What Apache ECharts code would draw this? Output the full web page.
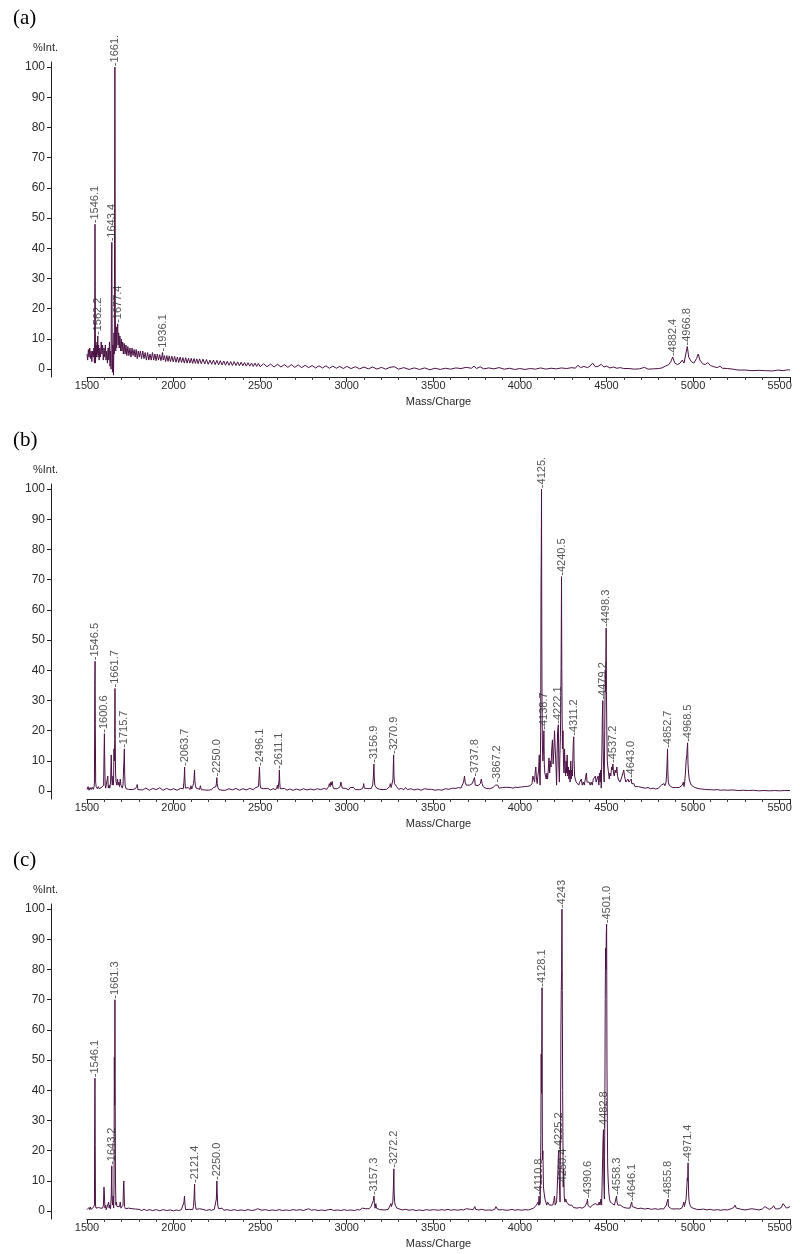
<!DOCTYPE html>
<html>
<head>
<meta charset="utf-8">
<script src="https://cdn.jsdelivr.net/npm/echarts@6/dist/echarts.min.js"></script>
<style>
  html, body { margin: 0; padding: 0; background: #fff; }
  #chart { width: 800px; height: 1254px; }
</style>
</head>
<body>
<div id="chart"></div>
<script>
// ---------- tick labels ----------
const xTicks = [1500, 2000, 2500, 3000, 3500, 4000, 4500, 5000, 5500];
const yTicks = [0, 10, 20, 30, 40, 50, 60, 70, 80, 90, 100];
const panelTags = ['(a)', '(b)', '(c)'];

// ---------- spectrum (a) : [m/z, %Int] ----------
const specA = [
[1500,5],[1504,3],[1508,6.5],[1512,4],[1516,7],[1520,3.5],[1524,6],[1528,2.5],[1532,6],[1536,4],[1540,7],[1543,2],
[1545,20],[1546.1,48],[1547.5,27],[1549,2],[1552,8],[1555,4],[1558,9],[1560,5],[1562.2,11],[1564,4],[1567,8],[1570,3],
[1574,7],[1578,4],[1582,9],[1586,5],[1590,8],[1594,3],[1598,7],[1602,4],[1606,8],[1610,3],[1614,6],[1618,2],[1622,7],
[1626,3],[1630,9],[1633,1],[1636,6],[1639,0],[1641,28],[1643.4,42],[1645,15],[1647,-1],[1650,8],[1653,-2],[1656,12],
[1658,5],[1659.5,52],[1661,100],[1662,72],[1663.5,20],[1666,6],[1669,14],[1671,7],[1674,12],[1677.4,15],[1680,8],
[1683,12],[1686,7],[1690,11],[1694,6],[1698,10],[1702,6],[1706,9],[1710,5],[1715,8.5],[1720,5],[1725,8],[1730,4.5],
[1736,7.5],[1742,4.5],[1748,7],[1754,4],[1760,7],[1766,4.5],[1772,6.5],[1778,4],[1784,6.5],[1790,3.5],[1796,6],
[1802,4],[1808,6],[1815,3.5],[1822,6],[1829,3.5],[1836,5.5],[1843,3],[1850,5.5],[1857,3],[1864,5],[1871,3],[1878,5.5],
[1885,3],[1892,5],[1899,2.8],[1906,5],[1913,3],[1920,4.8],[1927,2.8],[1933,4.5],[1936.1,5.5],[1940,3],[1947,4.5],
[1954,2.5],[1961,4.5],[1968,2.6],[1975,4.4],[1982,2.5],[1990,4.3],[1998,2.4],[2006,4.2],[2014,2.3],[2022,4],[2030,2.2],
[2038,4],[2046,2.2],[2054,3.8],[2062,2],[2070,3.8],[2078,2],[2086,3.6],[2094,2],[2102,3.6],[2110,1.9],[2118,3.5],
[2126,1.9],[2134,3.4],[2142,1.8],[2150,3.4],[2160,1.8],[2170,3.3],[2180,1.7],[2190,3.2],[2200,1.6],[2210,3],[2220,1.6],
[2230,3],[2240,1.5],[2250,2.9],[2260,1.4],[2270,2.8],[2280,1.4],[2290,2.7],[2300,1.3],[2310,2.6],[2320,1.3],[2330,2.5],
[2340,1.2],[2350,2.5],[2360,1.2],[2370,2.4],[2380,1.1],[2390,2.3],[2400,1.1],[2410,2.2],[2420,1],[2430,2.1],[2440,1],
[2450,2],[2460,0.9],[2470,2],[2480,0.9],[2490,1.9],[2500,0.8],[2520,1.8],[2540,0.8],[2560,1.7],[2580,0.7],[2600,1.6],
[2620,0.7],[2640,1.5],[2660,0.6],[2680,1.5],[2700,0.6],[2720,1.4],[2740,0.5],[2760,1.3],[2780,0.5],[2800,1.2],
[2820,0.4],[2840,1.1],[2860,0.4],[2880,1.1],[2900,0.3],[2920,1],[2940,0.3],[2960,0.9],[2980,0.2],[3000,0.9],[3025,0.2],
[3050,0.8],[3075,0.1],[3100,0.7],[3125,0.1],[3150,0.7],[3175,0],[3200,0.6],[3225,0],[3250,0.6],[3275,0.8],[3300,0],
[3330,0.5],[3360,-0.1],[3390,0.4],[3420,-0.1],[3450,0.4],[3480,-0.2],[3510,0.3],[3540,-0.1],[3570,0.3],[3600,0],
[3630,0.4],[3660,0.2],[3690,0.6],[3720,0.3],[3735,1],[3750,0.2],[3770,0.8],[3790,0.1],[3820,0.4],[3850,0.1],[3880,0.5],
[3910,0],[3940,0.3],[3970,-0.1],[4000,0.2],[4030,-0.1],[4060,0.2],[4090,0],[4120,0.4],[4150,0],[4180,0.3],[4210,0.1],
[4240,0.4],[4270,0.2],[4300,0.5],[4320,0.3],[4335,1.3],[4350,0.5],[4370,0.9],[4390,0.5],[4405,1],[4420,2],[4435,0.8],
[4450,0.9],[4470,1.6],[4485,0.7],[4500,1],[4520,0.4],[4540,0.7],[4560,0.3],[4580,0.5],[4600,0.2],[4630,0.2],[4660,0],
[4690,0.1],[4720,0.6],[4740,0],[4770,0.1],[4800,0.2],[4820,0.4],[4840,1],[4860,1.5],[4872,2.5],[4882.4,4],[4895,2],
[4910,1.5],[4925,2],[4938,3],[4948,2],[4958,5],[4966.8,7.5],[4975,4],[4990,2.5],[5005,2],[5020,3.5],[5030,5],[5040,3],
[5055,1.8],[5070,1.5],[5085,2.2],[5100,1.2],[5120,0.8],[5140,0.5],[5155,1],[5170,0.3],[5200,0.2],[5230,0],[5260,-0.3],
[5300,-0.3],[5340,-0.5],[5380,-0.4],[5420,-0.5],[5460,-0.6],[5490,-0.3],[5520,-0.5],[5550,-0.2],[5560,-0.3]
];
const peaksA = [
[1546.1,48,'1546.1'],[1562.2,11,'1562.2'],[1643.4,42,'1643.4'],[1661,100,'1661.'],[1677.4,15,'1677.4'],
[1936.1,5.5,'1936.1'],[4882.4,4,'4882.4'],[4966.8,7.5,'4966.8']
];

// ---------- spectrum (b) ----------
const specB = [
[1500,0.5],[1506,1.5],[1512,0.3],[1518,1.2],[1524,0.5],[1530,1.3],[1536,0.6],[1541,1.5],[1543,3],[1545,35],[1546.5,43],
[1548,22],[1550,3],[1553,1.5],[1557,2],[1560,0.8],[1565,1.5],[1570,0.8],[1575,1.2],[1580,0.6],[1586,1.3],[1592,0.8],
[1596,2],[1598.5,12],[1600.6,19],[1602.5,9],[1605,2],[1608,1],[1612,1.5],[1616,0.8],[1620,5],[1623,1],[1628,2],[1632,1],
[1636,3],[1640,12],[1643,4],[1646,2],[1650,5],[1653,2],[1656,14],[1658,10],[1660,17],[1661.7,34],[1663,17],[1665,6],
[1668,3],[1672,2],[1676,4],[1680,2],[1684,3],[1688,1.5],[1692,4],[1696,2],[1700,2.5],[1704,1],[1708,2],[1711,7],
[1713.5,10],[1715.7,14],[1717.5,6],[1720,2],[1725,0.8],[1730,1],[1740,0.6],[1750,1],[1760,0.5],[1770,1],[1780,0.8],
[1786,1.5],[1790,2.2],[1794,0.5],[1800,0.8],[1820,0.4],[1840,1],[1860,0.3],[1880,0.9],[1900,0.5],[1920,1.1],[1940,0.3],
[1960,0.9],[1980,0.4],[2000,0.8],[2020,0.3],[2040,0.9],[2050,1.5],[2056,0.8],[2060,3],[2062,5],[2063.7,8],[2065.5,4],
[2068,1],[2075,0.6],[2085,1.2],[2095,0.5],[2100,1.8],[2105,0.7],[2110,1.5],[2115,2.5],[2118,4],[2121,7],[2123,3.5],
[2126,2],[2130,1],[2140,1.5],[2150,0.6],[2155,1.8],[2160,0.5],[2170,0.9],[2180,0.4],[2190,0.8],[2200,0.3],[2210,0.9],
[2220,0.5],[2230,1.2],[2240,0.8],[2245,1.5],[2248,3],[2250,4.5],[2252,2.5],[2256,1.2],[2262,0.5],[2270,0.8],[2280,0.3],
[2290,0.7],[2300,0.3],[2320,0.8],[2340,0.4],[2360,0.9],[2380,0.3],[2400,0.8],[2420,0.4],[2440,0.9],[2460,0.5],
[2475,1.2],[2485,0.6],[2490,1.5],[2493,4],[2496.1,8],[2498,5],[2500,2],[2504,1],[2510,0.6],[2520,0.8],[2530,0.4],
[2545,0.9],[2560,0.4],[2575,0.8],[2590,0.5],[2596,1.2],[2600,2],[2603,0.8],[2607,1],[2609,3.5],[2611.1,7],[2613,3],
[2616,0.8],[2625,0.5],[2640,0.9],[2655,0.3],[2670,0.7],[2690,0.3],[2710,0.7],[2730,0.3],[2750,0.8],[2770,0.4],
[2790,0.7],[2810,0.4],[2830,0.8],[2850,0.5],[2870,0.9],[2885,0.6],[2895,1.5],[2900,2.5],[2904,1.5],[2908,3],[2912,2],
[2916,3.2],[2920,1.5],[2925,0.8],[2935,0.5],[2945,0.8],[2955,0.6],[2962,1.5],[2966,3],[2970,2.2],[2974,1],[2980,0.6],
[2995,0.9],[3010,0.4],[3020,1.2],[3025,1.5],[3030,0.7],[3040,1.2],[3050,0.5],[3060,0.9],[3075,0.5],[3090,0.8],
[3095,1.5],[3098,2.5],[3101,1],[3105,0.7],[3110,1.5],[3115,0.9],[3120,1.5],[3128,0.8],[3135,1.2],[3142,0.9],[3150,2],
[3154,5],[3156.9,9],[3159,5],[3162,2],[3166,1.5],[3170,2.5],[3173,1],[3180,0.8],[3190,0.6],[3200,0.8],[3210,0.5],
[3220,0.9],[3230,0.6],[3240,1],[3248,1.5],[3252,2.5],[3256,1.2],[3260,2],[3264,1.5],[3267,4],[3270.9,12],[3273,5],
[3276,2.5],[3280,3],[3284,2.5],[3288,1.5],[3295,1.2],[3300,0.6],[3315,0.9],[3330,0.5],[3340,1.2],[3350,0.5],[3370,0.8],
[3390,0.4],[3410,0.7],[3430,0.3],[3450,0.8],[3460,1.2],[3470,0.6],[3490,0.6],[3510,0.3],[3530,0.5],[3550,0.3],
[3570,0.8],[3590,0.6],[3610,1],[3630,0.9],[3645,1.2],[3660,1],[3670,1.5],[3675,3],[3680,5],[3684,3],[3690,2],
[3700,1.6],[3710,2],[3718,1.8],[3725,2.5],[3730,3],[3735,2.5],[3737.8,4.5],[3742,2],[3750,1.5],[3758,1.8],[3765,1.2],
[3772,2.5],[3777,4],[3782,2.5],[3788,1.5],[3796,1.2],[3805,0.9],[3815,1],[3825,0.8],[3835,1],[3845,1.2],[3852,1.5],
[3860,2],[3867.2,2.5],[3872,2],[3880,1],[3890,0.8],[3900,1.2],[3910,0.9],[3920,1.3],[3930,1],[3945,1.2],[3960,1],
[3975,1.3],[3990,1.2],[4000,1.5],[4010,1.4],[4018,1.8],[4025,1.5],[4035,1.8],[4045,1.6],[4055,2],[4060,1.8],[4065,2],
[4070,2.5],[4075,5],[4080,4],[4085,3],[4088,6],[4092,8],[4096,4],[4100,2.5],[4104,5],[4108,7],[4112,12],[4115,4],
[4117,2],[4120,20],[4122,67],[4123.5,80],[4125,100],[4126.5,52],[4128,30],[4130,15],[4133,10],[4136,14],[4138.7,20],
[4141,9],[4144,6],[4148,5],[4152,4],[4156,6],[4160,4],[4164,7],[4168,11],[4172,6],[4176,10],[4180,8],[4184,14],
[4188,17],[4192,9],[4196,13],[4200,20],[4204,14],[4208,9],[4212,2],[4215,12],[4218,20],[4222.1,22],[4225,8],[4228,3],
[4231,12],[4234,18],[4236,28],[4238,41],[4240.5,71],[4242,41],[4244,25],[4246,14],[4249,20],[4252,9],[4255,6],
[4258,14],[4261,8],[4264,5],[4267,10],[4270,6],[4273,12],[4276,5],[4280,8],[4283,4],[4287,7],[4290,3],[4294,10],
[4297,4],[4300,7],[4303,5],[4306,11],[4308.5,16],[4311.2,18],[4313,10],[4316,5],[4320,4],[4325,3],[4330,2.5],
[4335,3.5],[4340,2],[4345,3],[4350,2.5],[4355,4],[4360,2],[4366,3],[4372,2],[4378,4],[4384,6],[4388,3],[4394,2.5],
[4400,3],[4406,2],[4412,3],[4418,2],[4424,4],[4430,3.5],[4436,5],[4440,3],[4446,4],[4452,5],[4456,2],[4460,6],
[4464,3],[4467,7],[4470,1],[4474,14],[4476,24],[4479.2,30],[4481,15],[4484,6],[4487,3],[4490,20],[4493,40],[4495,33],
[4498.3,54],[4500,33],[4502,20],[4505,10],[4508,8],[4512,6],[4516,4],[4520,6],[4525,5],[4530,8],[4534,7],[4537.2,9],
[4541,6],[4545,5],[4550,7],[4555,6],[4560,8],[4564,5],[4568,4],[4572,4],[4578,3],[4585,4],[4590,5],[4595,6],[4600,7],
[4604,5],[4608,4],[4612,3],[4618,3],[4624,4],[4630,3],[4635,2.5],[4640,3],[4643,4],[4646,2.5],[4650,2],[4658,2.5],
[4665,1.5],[4675,2],[4685,1.5],[4695,1.8],[4705,1.2],[4715,1.5],[4725,1],[4740,1.2],[4755,0.8],[4770,1],[4785,0.7],
[4800,1],[4810,1.5],[4818,2],[4825,1.5],[4832,2.5],[4838,1.8],[4844,3],[4848,6],[4850.5,10],[4852.7,14],[4854.5,7],
[4857,3],[4862,2],[4870,1.5],[4880,1.2],[4890,1],[4900,1.2],[4910,0.9],[4920,1.2],[4930,1],[4938,2],[4944,3],
[4948,1.5],[4952,3],[4956,6],[4960,10],[4964,12],[4968.5,16],[4971,9],[4974,6],[4978,4],[4983,3],[4990,2],[5000,1.5],
[5010,1.2],[5020,1],[5035,0.8],[5050,0.7],[5065,0.6],[5080,0.5],[5100,0.5],[5120,0.4],[5140,0.5],[5160,0.3],
[5180,0.4],[5200,0.3],[5230,0.4],[5260,0.2],[5290,0.3],[5320,0.2],[5350,0.3],[5380,0.1],[5410,0.2],[5440,0.1],
[5470,0.2],[5500,0.1],[5530,0.2],[5560,0.2]
];
const peaksB = [
[1546.5,43,'1546.5'],[1600.6,19,'1600.6'],[1661.7,34,'1661.7'],[1715.7,14,'1715.7'],[2063.7,8,'2063.7'],
[2250.0,4.5,'2250.0'],[2496.1,8,'2496.1'],[2611.1,7,'2611.1'],[3156.9,9,'3156.9'],[3270.9,12,'3270.9'],
[3737.8,4.5,'3737.8'],[3867.2,2.5,'3867.2'],[4125,100,'4125.'],[4138.7,20,'4138.7'],[4222.1,22,'4222.1'],
[4240.5,71,'4240.5'],[4311.2,18,'4311.2'],[4479.2,30,'4479.2'],[4498.3,54,'4498.3'],[4537.2,9,'4537.2'],
[4643.0,4,'4643.0'],[4852.7,14,'4852.7'],[4968.5,16,'4968.5']
];

// ---------- spectrum (c) ----------
const specC = [
[1500,0.5],[1504,1],[1508,0.3],[1512,1.2],[1516,0.5],[1520,1.4],[1524,0.6],[1528,1],[1532,0.4],[1536,1.2],[1540,0.6],
[1543,2],[1545,40],[1546.1,44],[1547.5,22],[1549,2],[1552,1],[1556,1.5],[1560,0.8],[1566,1.2],[1572,0.6],[1578,1],
[1584,0.5],[1590,1],[1595,2],[1598,8],[1600,6],[1602,3],[1604,1],[1608,2],[1611,0.5],[1615,1],[1620,0.5],[1625,3],
[1628,1],[1632,2],[1636,0.8],[1640,5],[1643.2,15],[1645,4],[1648,2],[1651,5],[1654,1],[1656,8],[1658,51],[1659.5,35],
[1661.3,70],[1663,35],[1664.5,10],[1667,2],[1670,3],[1673,1.5],[1676,2],[1680,1],[1684,2],[1688,1.5],[1692,3],
[1696,1],[1700,1.5],[1704,0.8],[1708,2],[1711,9],[1713,10],[1715,5],[1717,1.5],[1722,0.8],[1730,0.5],[1740,1],
[1750,0.4],[1760,0.8],[1770,0.3],[1780,0.7],[1790,0.3],[1800,0.6],[1815,0.2],[1830,0.6],[1845,0.2],[1860,0.5],
[1880,0.2],[1900,0.5],[1920,0.1],[1940,0.5],[1960,0.2],[1980,0.4],[2000,0.1],[2015,0.4],[2030,0.2],[2045,0.5],
[2055,1],[2060,3],[2063,5],[2066,2],[2070,0.5],[2080,0.4],[2090,0.6],[2100,0.3],[2110,0.5],[2115,1.5],[2118,4],
[2121.4,9],[2123,4],[2126,2],[2130,0.6],[2140,0.4],[2150,0.8],[2160,0.3],[2175,0.5],[2190,0.2],[2205,0.5],[2220,0.3],
[2235,0.6],[2244,1],[2247,4],[2250,10],[2252,6],[2255,2],[2260,0.8],[2270,0.5],[2280,1],[2290,0.3],[2310,0.5],
[2330,0.2],[2350,0.5],[2370,0.2],[2390,0.4],[2410,0.2],[2430,0.5],[2450,0.2],[2470,0.4],[2485,0.8],[2490,1.3],
[2495,0.5],[2510,0.3],[2530,0.5],[2550,0.2],[2570,0.4],[2590,0.2],[2610,0.5],[2630,0.2],[2650,0.4],[2670,0.2],
[2690,0.5],[2710,0.3],[2730,0.5],[2750,0.2],[2765,0.5],[2780,0.8],[2795,0.3],[2815,0.5],[2835,0.2],[2855,0.4],
[2875,0.2],[2895,0.5],[2910,0.6],[2925,0.2],[2945,0.4],[2965,0.2],[2985,0.5],[3005,0.2],[3020,0.4],[3030,0.5],
[3045,0.2],[3060,0.5],[3075,0.4],[3090,1],[3100,1.5],[3110,0.8],[3120,1.3],[3130,0.8],[3140,1.5],[3150,2],[3154,3.5],
[3157.3,5],[3160,2.5],[3164,1],[3168,2.5],[3172,1],[3180,0.8],[3190,0.5],[3200,0.6],[3220,0.4],[3240,0.6],[3250,1],
[3255,2.5],[3258,1.5],[3262,1.2],[3266,3],[3269,7],[3272.2,14],[3274,6],[3277,3],[3280,2],[3285,1.5],[3290,1],
[3300,0.6],[3320,0.4],[3340,0.6],[3360,0.3],[3380,0.5],[3400,0.2],[3420,0.4],[3440,0.2],[3460,0.5],[3480,0.3],
[3500,0.5],[3515,0.4],[3522,1],[3530,0.3],[3550,0.5],[3565,0.3],[3575,0.8],[3585,0.6],[3600,0.3],[3620,0.5],
[3640,0.3],[3660,0.5],[3675,0.4],[3690,0.8],[3700,0.4],[3715,0.6],[3730,0.5],[3740,1.5],[3745,0.6],[3760,0.4],
[3780,0.6],[3800,0.3],[3820,0.4],[3840,0.3],[3855,0.6],[3862,1.5],[3868,0.8],[3880,0.4],[3900,0.5],[3920,0.3],
[3940,0.4],[3955,0.6],[3970,0.3],[3990,0.5],[4010,0.3],[4030,0.5],[4050,0.4],[4065,0.7],[4080,1],[4090,1.5],
[4095,2],[4100,1.5],[4105,3],[4108,2],[4110.8,5],[4114,2],[4118,3],[4121,25],[4123,52],[4125,39],[4128.1,74],
[4130,17],[4133,20],[4136,8],[4140,6],[4145,4],[4150,3],[4155,2],[4160,3],[4170,2],[4180,2.5],[4190,2],[4196,3.5],
[4200,5],[4204,2],[4208,1.5],[4212,3],[4216,8],[4220,14],[4222,18],[4225.2,20],[4228,10],[4232,3],[4235,30],[4237,60],
[4239,73],[4241,80],[4243,100],[4245,73],[4247,40],[4249,20],[4250.4,8],[4253,14],[4256,5],[4260,3],[4265,4],
[4270,3],[4275,2.5],[4280,3.5],[4285,2],[4290,2.5],[4295,1.5],[4300,2],[4310,1.2],[4320,1.5],[4330,1],[4345,1.2],
[4360,1],[4375,1.5],[4385,2],[4388,3],[4390.6,4],[4393,2],[4398,1.5],[4405,1.2],[4412,1.5],[4420,2],[4428,1.5],
[4435,2.5],[4440,2],[4445,2.5],[4452,2],[4458,3],[4463,2],[4468,4],[4472,2],[4476,12],[4478,18],[4480.5,24],
[4482.8,27],[4485,10],[4488,4],[4490,25],[4493,70],[4495,87],[4497,80],[4499,92],[4501,95],[4503,48],[4505,30],
[4507,15],[4510,10],[4514,6],[4518,4],[4522,3],[4528,3.5],[4534,2.5],[4540,3],[4546,2],[4550,3],[4554,4],[4558.3,5],
[4561,3],[4566,2],[4572,1.5],[4580,2],[4590,1.5],[4600,1.2],[4610,1.5],[4620,1],[4630,1.5],[4636,1],[4640,2],
[4643,2.5],[4646.1,3],[4649,1.5],[4655,1],[4665,1.2],[4680,0.8],[4700,1],[4720,0.7],[4740,0.9],[4760,0.6],[4780,0.8],
[4800,0.6],[4815,0.8],[4830,0.7],[4840,1],[4846,2],[4850,3],[4853,2.5],[4855.8,4],[4858,1.5],[4864,1],[4875,0.8],
[4890,0.7],[4905,0.8],[4920,0.7],[4935,1],[4942,2],[4947,3],[4950,1.5],[4955,2],[4960,4],[4964,8],[4967,11],
[4969,10],[4971.4,16],[4973,10],[4975,5],[4978,3],[4983,2],[4990,1.2],[5000,0.8],[5020,0.6],[5040,0.5],[5060,0.7],
[5080,0.4],[5100,0.6],[5120,0.3],[5140,0.5],[5160,0.3],[5180,0.5],[5200,0.4],[5220,0.8],[5235,1.2],[5242,2],
[5250,1],[5260,0.7],[5280,0.6],[5300,0.4],[5320,0.6],[5340,0.8],[5360,0.6],[5380,0.4],[5400,0.7],[5415,1.5],
[5425,1],[5440,0.6],[5455,1],[5465,1.8],[5475,0.8],[5490,0.7],[5500,1],[5510,1.2],[5520,2.5],[5525,3],[5530,2],
[5540,1],[5550,0.8],[5560,1.5]
];
const peaksC = [
[1546.1,44,'1546.1'],[1643.2,15,'1643.2'],[1661.3,70,'1661.3'],[2121.4,9,'2121.4'],[2250.0,10,'2250.0'],
[3157.3,5,'3157.3'],[3272.2,14,'3272.2'],[4110.8,5,'4110.8'],[4128.1,74,'4128.1'],[4225.2,20,'4225.2'],
[4243,100,'4243'],[4250.4,8,'4250.4'],[4390.6,4,'4390.6'],[4482.8,27,'4482.8'],[4501.0,95,'4501.0'],
[4558.3,5,'4558.3'],[4646.1,3,'4646.1'],[4855.8,4,'4855.8'],[4971.4,16,'4971.4']
];

// ---------- build chart ----------
const specs = [specA, specB, specC];
const peaks = [peaksA, peaksB, peaksC];
const panelTop = [62, 484, 904];
const panelH = 315;
const LINE = '#4b1245';
const TXT = '#2a2a2a';
const SANS = 'Liberation Sans, Arial, sans-serif';

const minorY = [];
for (let v = 0; v <= 100; v += 1) minorY.push(v);

const grid = [], xAxis = [], yAxis = [], series = [], title = [];
for (let i = 0; i < 3; i++) {
  grid.push({ left: 87, width: 703, top: panelTop[i], height: panelH, containLabel: false });
  xAxis.push({
    type: 'value', gridIndex: i, min: 1500, max: 5560, interval: 500,
    axisLine: { onZero: false, lineStyle: { color: '#222', width: 1 } },
    axisTick: { show: true, length: 5, lineStyle: { color: '#222' } },
    minorTick: { show: true, splitNumber: 5, length: 3, lineStyle: { color: '#444' } },
    splitLine: { show: false },
    axisLabel: { color: TXT, fontFamily: SANS, fontSize: 11, margin: 3,
      customValues: xTicks, formatter: v => String(v) },
    name: 'Mass/Charge', nameLocation: 'middle', nameGap: 19,
    nameTextStyle: { color: TXT, fontFamily: SANS, fontSize: 11 }
  });
  // major y axis with labels
  yAxis.push({
    type: 'value', gridIndex: i, min: -2.6, max: 101.7, offset: 36,
    axisLine: { show: true, lineStyle: { color: '#222', width: 1 } },
    axisTick: { show: true, length: 4, customValues: yTicks, lineStyle: { color: '#222' } },
    axisLabel: { color: TXT, fontFamily: SANS, fontSize: 12, margin: 6, customValues: yTicks },
    splitLine: { show: false }
  });
  // minor y ticks
  yAxis.push({
    type: 'value', gridIndex: i, min: -2.6, max: 101.7, offset: 36,
    axisLine: { show: false },
    axisTick: { show: true, length: 2, customValues: minorY, lineStyle: { color: '#555' } },
    axisLabel: { show: false },
    splitLine: { show: false }
  });
  series.push({
    type: 'line', xAxisIndex: i, yAxisIndex: 2 * i, data: specs[i],
    showSymbol: false, symbol: 'none', animation: false, clip: true,
    lineStyle: { color: LINE, width: 1 }, z: 3
  });
  series.push({
    type: 'scatter', xAxisIndex: i, yAxisIndex: 2 * i, symbolSize: 0, animation: false, z: 4,
    data: peaks[i].map(p => ({ value: [p[0], p[1]], name: p[2] })),
    label: {
      show: true, position: 'top', distance: 1, rotate: 90, align: 'left', verticalAlign: 'middle',
      formatter: '-{b}', color: TXT, fontFamily: SANS, fontSize: 11
    }
  });
  title.push({ text: panelTags[i], left: 8, top: panelTop[i] - 59,
    textStyle: { fontFamily: 'Liberation Serif, Times New Roman, serif', fontSize: 21, fontWeight: 'normal', color: '#000' } });
  title.push({ text: '%Int.', left: 28, top: panelTop[i] - 25,
    textStyle: { fontFamily: SANS, fontSize: 11, fontWeight: 'normal', color: TXT } });
}

const chart = echarts.init(document.getElementById('chart'), null, { renderer: 'canvas' });
chart.setOption({
  backgroundColor: '#fff',
  animation: false,
  title, grid, xAxis, yAxis, series
});
</script>
</body>
</html>
